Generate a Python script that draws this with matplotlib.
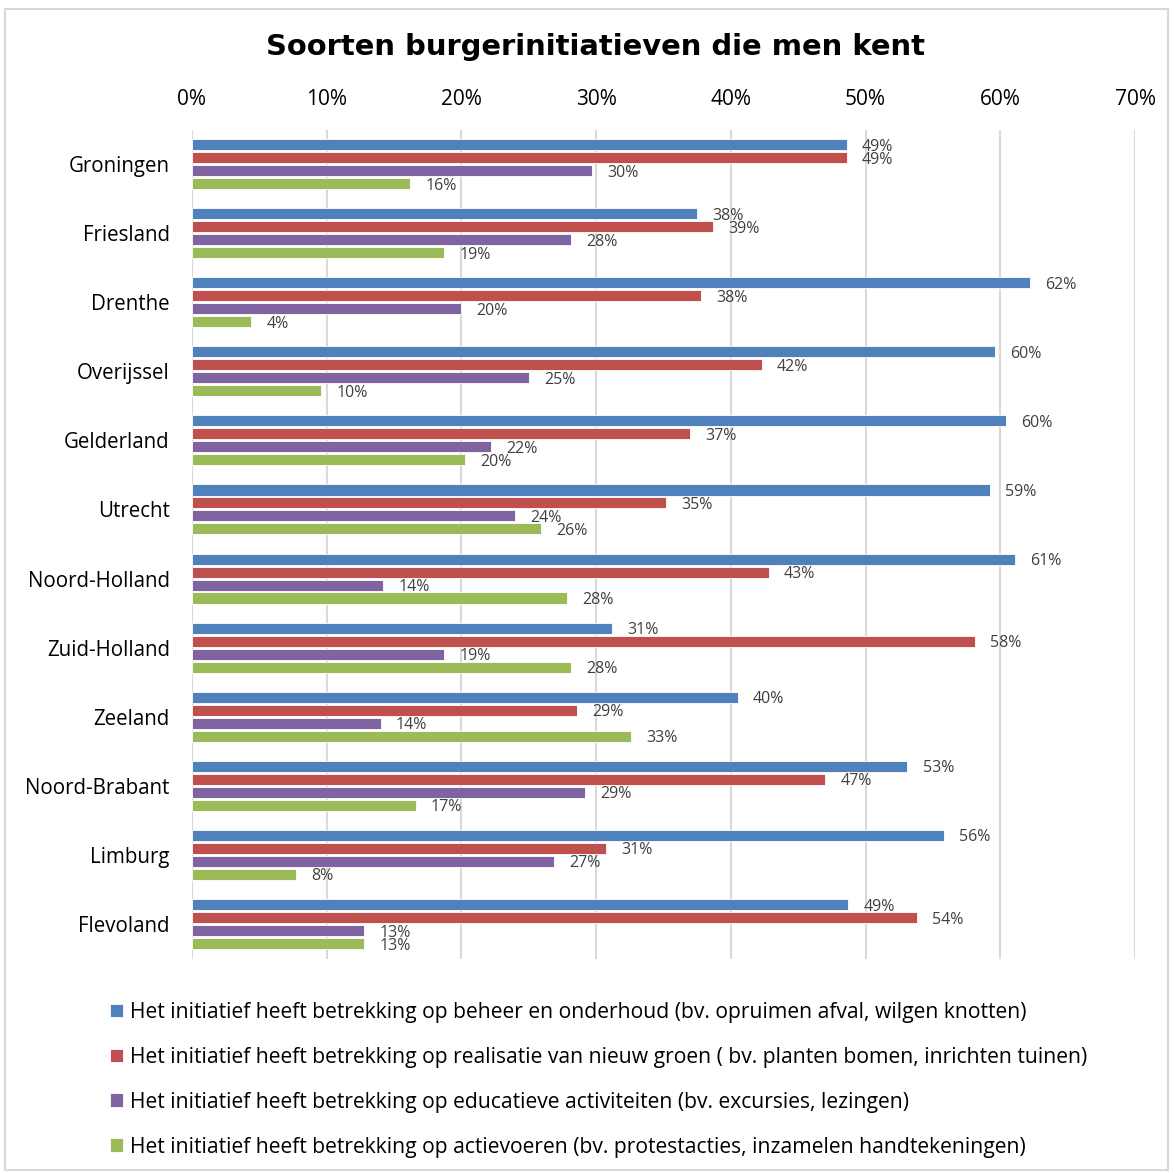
import numpy as np
import matplotlib.pyplot as plt
from matplotlib.patches import Rectangle

provinces = ['Groningen', 'Friesland', 'Drenthe', 'Overijssel', 'Gelderland', 'Utrecht',
             'Noord-Holland', 'Zuid-Holland', 'Zeeland', 'Noord-Brabant', 'Limburg', 'Flevoland']

beheer = [48.6, 37.5, 62.2, 59.6, 60.4, 59.2, 61.1, 31.2, 40.5, 53.1, 55.8, 48.7]
nieuw_groen = [48.6, 38.7, 37.8, 42.3, 37.0, 35.2, 42.8, 58.1, 28.6, 47.0, 30.7, 53.8]
educatief = [29.7, 28.1, 20.0, 25.0, 22.2, 24.0, 14.2, 18.7, 14.0, 29.2, 26.9, 12.8]
actievoeren = [16.2, 18.7, 4.4, 9.6, 20.3, 25.9, 27.8, 28.1, 32.6, 16.6, 7.7, 12.8]

series_names = [
    'Het initiatief heeft betrekking op beheer en onderhoud (bv. opruimen afval, wilgen knotten)',
    'Het initiatief heeft betrekking op realisatie van nieuw groen ( bv. planten bomen, inrichten tuinen)',
    'Het initiatief heeft betrekking op educatieve activiteiten (bv. excursies, lezingen)',
    'Het initiatief heeft betrekking op actievoeren (bv. protestacties, inzamelen handtekeningen)',
]
colors = ['#4F81BD', '#C0504D', '#8064A2', '#9BBB59']

plt.rcParams['font.family'] = ['Open Sans', 'DejaVu Sans']

fig = plt.figure(figsize=(11.74, 11.73), dpi=100)
W, H = 1174, 1173
ax = fig.add_axes([192 / W, 1 - 958.5 / H, (1135 - 192) / W, (958.5 - 129.5) / H])

y = np.arange(len(provinces))
pitch = 0.188
offsets = [-1.5 * pitch, -0.5 * pitch, 0.5 * pitch, 1.5 * pitch]
handles = []
for data, col, off, name in zip([beheer, nieuw_groen, educatief, actievoeren], colors, offsets, series_names):
    bars = ax.barh(y + off, data, height=0.16, color=col, edgecolor='white', linewidth=0.6, label=name, zorder=3)
    # data labels, nudged down a touch like the Excel original
    for v, yy in zip(data, y + off):
        ax.annotate(f'{round(v)}%', xy=(v, yy), xytext=(11, -1.5), textcoords='offset points',
                    ha='left', va='center', fontsize=11.5, color='#404040')
    handles.append(bars)

ax.set_xlim(0, 70)
ax.set_ylim(len(provinces) - 0.5, -0.5)
ax.set_xticks(np.arange(0, 71, 10))
ax.set_xticklabels([f'{t}%' for t in range(0, 71, 10)], fontsize=15)
ax.xaxis.tick_top()
ax.tick_params(axis='x', length=0, pad=14)
ax.set_yticks(y)
ax.set_yticklabels(provinces, fontsize=14.8)
ax.tick_params(axis='y', length=0, pad=16)
ax.grid(axis='x', color='#D9D9D9', linewidth=1.5, zorder=0)
for s in ax.spines.values():
    s.set_visible(False)

fig.text(595 / W, 1 - 47 / H, 'Soorten burgerinitiatieven die men kent', ha='center', va='center',
         fontsize=20.9, fontweight='bold', family='DejaVu Sans')

fig.legend(handles=handles, labels=series_names, loc='upper left', bbox_to_anchor=(91 / W, 1 - 983 / H),
           frameon=False, fontsize=15.2, labelspacing=1.13, handlelength=0.62, handleheight=0.62,
           handletextpad=0.33)

fig.patches.append(Rectangle((5 / W, 3 / H), 1163 / W, 1 - 12 / H, transform=fig.transFigure,
                             fill=False, edgecolor='#D9D9D9', linewidth=1.5))

fig.savefig('out.png', dpi=100)
